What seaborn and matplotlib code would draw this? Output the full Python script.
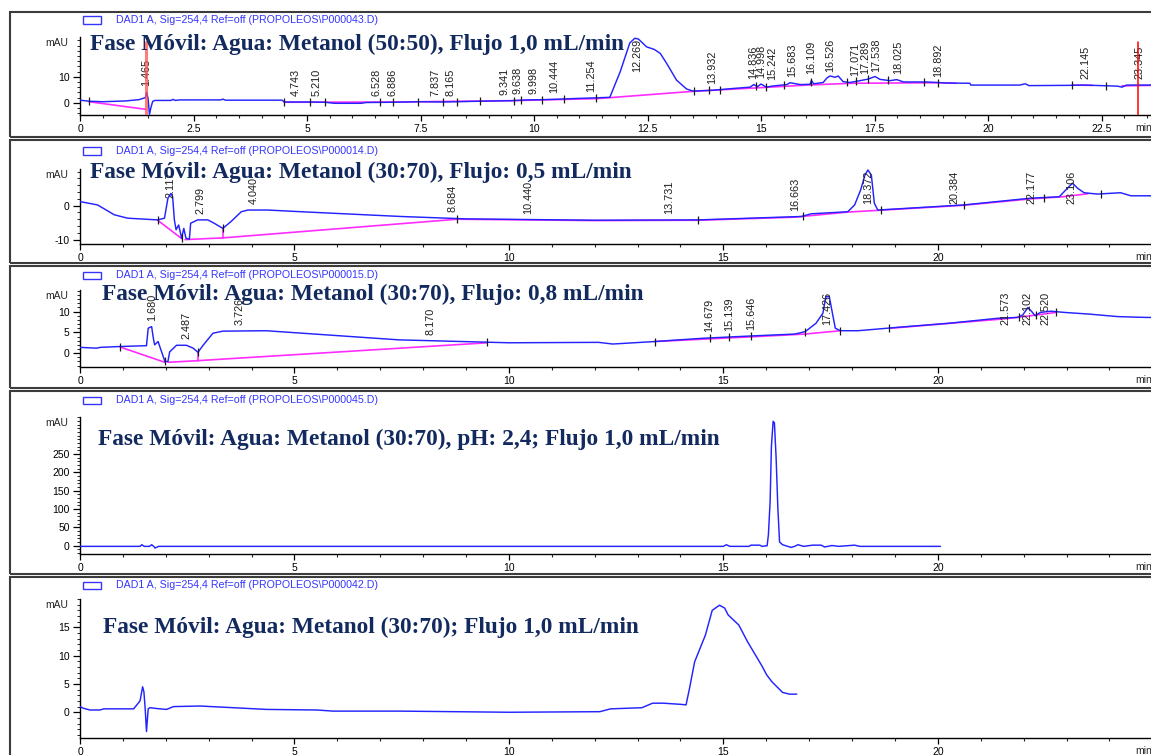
import numpy as np
import pandas as pd
import matplotlib
matplotlib.use("Agg")
import matplotlib.pyplot as plt
import seaborn as sns
from matplotlib.patches import Rectangle
from matplotlib.ticker import MultipleLocator, FuncFormatter

# ---------------- chromatogram data (time in min, signal in mAU) ----------------
p1_time = [0, 0.2, 0.5, 1.0, 1.3, 1.39, 1.44, 1.47, 1.50, 1.53, 1.56, 1.60, 1.65, 2.0, 2.05, 2.1,
           2.2, 3.1, 3.15, 3.2, 4.45, 4.5, 5.0, 5.4, 5.6, 6.2, 6.3, 6.9, 7.5, 8.0, 8.8, 9.5, 9.84,
           10.2, 10.57, 11.0, 11.38, 11.67, 11.9, 12.11, 12.22, 12.3, 12.48, 12.65, 12.78, 12.92,
           13.14, 13.36, 13.5, 13.93, 14.39, 14.76, 14.84, 14.92, 15.0, 15.12, 15.24, 15.57, 15.64,
           15.86, 16.08, 16.11, 16.16, 16.37, 16.45, 16.52, 16.63, 16.70, 16.81, 16.96, 17.18,
           17.36, 17.51, 17.62, 17.84, 17.99, 18.14, 18.65, 19.09, 19.6, 19.62, 20.7, 20.82, 20.9,
           21.8, 22.1, 22.3, 22.85, 22.95, 23.05, 23.6]
p1_mau = [1.0, 0.6, 0.4, 0.7, 1.2, 1.7, 2.0, 4.0, 1.5, -4.5, -2.0, 0.5, 0.9, 0.9, 1.3, 0.9,
          1.1, 1.1, 1.4, 1.0, 1.0, 0.3, 0.3, 0.2, -0.2, -0.2, 0.1, 0.2, 0.4, 0.3, 0.6, 0.8, 1.1,
          1.2, 1.4, 1.7, 1.9, 2.1, 12.0, 23.0, 24.8, 24.5, 21.5, 20.5, 19.0, 15.2,
          8.7, 5.3, 4.5, 4.8, 5.5, 6.0, 7.0, 6.2, 7.2, 6.0, 6.4, 7.0, 7.7,
          7.0, 7.1, 8.6, 7.3, 7.8, 9.5, 10.3, 9.8, 10.3, 8.1, 7.8, 8.5,
          9.1, 10.1, 9.0, 8.5, 8.9, 8.0, 8.0, 7.6, 7.5, 6.8, 6.8, 7.3, 6.6,
          6.7, 6.8, 6.7, 6.4, 6.0, 6.8, 6.8]
p1_base_time = [0.2, 1.44, None, 4.5, 7.0, 9.5, 11.4, 13.5, 15.5, 16.0, 17.0, 18.9, 19.3, None,
                21.85, 22.3, None, 22.95, 23.6]
p1_base_mau = [0.4, -2.5, None, 0.2, 0.3, 0.8, 1.6, 4.4, 6.3, 6.8, 7.5, 7.7, 7.5, None,
               6.8, 6.7, None, 6.5, 6.7]
p1_peaks = ["1.465", "4.743", "5.210", "6.528", "6.886", "7.837", "8.165", "9.341", "9.638",
            "9.998", "10.444", "11.254", "12.269", "13.932", "14.836", "14.998", "15.242",
            "15.683", "16.109", "16.526", "17.071", "17.289", "17.538", "18.025", "18.892",
            "22.145", "23.345"]
p1_events = [0.2, 4.5, 5.06, 5.4, 6.6, 6.9, 7.45, 8.0, 8.3, 8.8, 9.55, 9.72, 10.17, 10.65,
             11.37, 13.52, 13.85, 14.1, 14.9, 15.1, 15.5, 16.1, 16.9, 17.1, 17.35, 17.8, 18.6,
             18.9, 21.85, 22.6]
p1_cursors = [1.45, 23.31]

p2_time = [0, 0.41, 0.8, 1.11, 1.81, 1.97, 2.05, 2.12, 2.16, 2.20, 2.24, 2.30, 2.37, 2.42, 2.47,
           2.55, 2.58, 2.74, 2.98, 3.13, 3.33, 3.52, 3.76, 3.91, 4.38, 5.16, 7.49, 9.0, 12.0,
           14.42, 16.82, 17.05, 17.9, 18.06, 18.2, 18.3, 18.37, 18.45, 18.52, 18.6, 20.6, 22.17,
           22.83, 23.02, 23.14, 23.26, 23.41, 23.72, 24.26, 24.5, 25.0]
p2_mau = [1.2, 0.2, -2.7, -3.7, -4.2, -3.7, 2.2, 3.6, 2.6, -4.2, -7.1, -5.7, -9.6, -6.7, -9.6,
          -9.9, -5.2, -4.2, -4.2, -5.2, -6.7, -4.7, -1.8, -1.3, -1.3, -1.8, -3.2, -3.9, -4.3,
          -4.2, -3.2, -2.4, -1.8, 0.2, 4.6, 9.0, 10.5, 9.0, 0.7, -1.3, 0.2, 2.2,
          2.6, 5.1, 6.6, 5.1, 3.8, 3.4, 3.8, 2.9, 2.9]
p2_base_time = [1.81, 2.37, None, 2.45, 3.33, 8.8, 12.0, 14.42, 16.66, 17.9, 18.6, 20.6, 22.17,
                22.9, 23.5, None, 3.33, 3.33]
p2_base_mau = [-4.3, -9.7, None, -10.0, -9.5, -4.0, -4.4, -4.3, -3.4, -1.9, -1.4, 0.1, 2.0,
               2.6, 3.5, None, -6.7, -9.5]
p2_peaks = ["2.117", "2.799", "4.040", "8.684", "10.440", "13.731", "16.663", "18.372",
            "20.384", "22.177", "23.106"]
p2_events = [1.81, 2.37, 3.33, 8.8, 14.42, 16.86, 18.67, 20.6, 22.48, 23.8]

p3_time = [0, 0.39, 0.47, 0.93, 1.55, 1.59, 1.67, 1.71, 1.74, 1.82, 1.90, 1.98, 2.05, 2.09,
           2.25, 2.48, 2.64, 2.75, 2.87, 3.10, 3.33, 4.34, 5.89, 7.44, 10.0, 12.09, 12.42,
           13.4, 14.54, 15.77, 16.67, 16.91, 17.16, 17.32, 17.39, 17.47, 17.55, 17.61, 17.73,
           18.14, 19.04, 20.26, 21.4, 21.86, 21.98, 22.1, 22.19, 22.27, 22.39, 22.63, 22.96,
           23.53, 24.19, 24.84, 25.0]
p3_mau = [1.4, 1.2, 1.4, 1.6, 1.8, 6.0, 6.4, 3.6, 2.0, 2.8, 0.4, -2.0, -2.0, 0.3,
          1.9, 1.9, 1.2, 0.2, 1.9, 4.8, 5.3, 5.4, 4.3, 3.2, 2.5, 2.6, 2.2,
          2.8, 3.6, 4.2, 4.6, 5.2, 7.2, 9.6, 13.6, 13.6, 9.2, 6.0, 5.4,
          5.4, 6.2, 7.2, 8.4, 8.6, 9.2, 11.0, 10.0, 9.0, 9.8, 10.1, 9.8,
          9.4, 8.8, 8.6, 8.6]
p3_base_time = [0.93, 1.98, None, 2.05, 2.75, 9.5, None, 13.4, 15.6, 16.9, 17.73, None, 18.9,
                20.3, 21.6, 22.0, 22.75, None, 2.75, 2.75]
p3_base_mau = [1.5, -2.2, None, -2.2, -1.8, 2.5, None, 2.8, 3.9, 4.6, 5.4, None, 6.0,
               7.2, 8.3, 8.8, 9.8, None, 0.2, -1.8]
p3_peaks = ["1.680", "2.487", "3.726", "8.170", "14.679", "15.139", "15.646", "17.426",
            "21.573", "22.102", "22.520"]
p3_events = [0.93, 1.98, 2.75, 9.5, 13.4, 14.68, 15.14, 15.65, 16.9, 17.73, 18.87, 21.9, 22.3,
             22.75]

p4_time = [0, 1.40, 1.44, 1.50, 1.62, 1.67, 1.72, 1.75, 1.83, 15.0, 15.07, 15.15, 15.6, 15.64,
           15.85, 15.9, 16.02, 16.05, 16.09, 16.12, 16.16, 16.19, 16.23, 16.27, 16.31, 16.38,
           16.5, 16.58, 16.66, 16.74, 16.87, 17.08, 17.28, 17.36, 17.53, 17.69, 18.06, 18.18,
           20.06]
p4_mau = [-1.8, -1.8, 2.7, -1.8, -1.8, 2.7, -1.8, -6.4, -1.8, -1.8, 2.7, -1.8, -1.8, 1.5,
          1.5, -1.8, 0.0, 30, 121, 271, 339, 335, 239, 103, 10, 2.7,
          -1.8, -4.6, -1.8, 2.7, -1.8, 1.5, 1.5, -3.5, 0.5, -1.8, 1.5, -1.8,
          -1.8]

p5_time = [0, 0.08, 0.23, 0.47, 0.55, 1.25, 1.40, 1.46, 1.49, 1.52, 1.55, 1.59, 1.63, 1.86,
           2.02, 2.18, 2.8, 3.58, 4.35, 5.52, 5.9, 7.46, 10.0, 12.12, 12.37, 13.1, 13.35, 13.6,
           14.0, 14.13, 14.21, 14.33, 14.58, 14.74, 14.91, 15.03, 15.11, 15.36, 15.56, 15.89,
           16.01, 16.13, 16.38, 16.54, 16.71]
p5_mau = [1.0, 0.7, 0.4, 0.4, 0.6, 0.6, 2.0, 4.5, 3.6, 0.6, -3.4, 0.6, 0.8, 0.6,
          0.5, 1.0, 1.1, 0.8, 0.5, 0.4, 0.2, 0.2, 0.0, 0.1, 0.6, 0.8, 1.6, 1.6,
          1.4, 1.3, 4.2, 8.9, 13.6, 18.0, 18.9, 18.4, 17.2, 15.4, 12.5, 8.3,
          6.6, 5.4, 3.5, 3.2, 3.2]

titles = ["Fase Móvil: Agua: Metanol (50:50), Flujo 1,0 mL/min",
          "Fase Móvil: Agua: Metanol (30:70), Flujo: 0,5 mL/min",
          "Fase Móvil: Agua: Metanol (30:70), Flujo: 0,8 mL/min",
          "Fase Móvil: Agua: Metanol (30:70), pH: 2,4; Flujo 1,0 mL/min",
          "Fase Móvil: Agua: Metanol (30:70); Flujo 1,0 mL/min"]
legend_labels = ["DAD1 A, Sig=254,4 Ref=off (PROPOLEOS\\P000043.D)",
                 "DAD1 A, Sig=254,4 Ref=off (PROPOLEOS\\P000014.D)",
                 "DAD1 A, Sig=254,4 Ref=off (PROPOLEOS\\P000015.D)",
                 "DAD1 A, Sig=254,4 Ref=off (PROPOLEOS\\P000045.D)",
                 "DAD1 A, Sig=254,4 Ref=off (PROPOLEOS\\P000042.D)"]

# ---------------- styling ----------------
W, H = 1151, 755
TRACE = "#2323ff"
BASE = "#ff2cff"
NAVY = "#122a5e"
LEGEND_BLUE = "#3535ff"

sns.set_style("ticks")
plt.rcParams["font.family"] = ["Liberation Sans", "DejaVu Sans"]
plt.rcParams["axes.unicode_minus"] = False

fig = plt.figure(figsize=(W / 100, H / 100), dpi=100, facecolor="white")


def fx(px):
    return px / W


def fy(py):
    return 1 - py / H


# panel layout in pixels: frame top/bottom, axes top/bottom, x scale, y range, ticks
layout = [
    dict(frame=(12, 137), ax=(36.7, 115.0), xmax=23.59, ylim=(-4.7, 25.4), ymaj=[0, 10],
         ymin=2, xmaj=2.5, xmin=0.5, legend_y=20, title=(90, 44)),
    dict(frame=(140, 263), ax=(169.3, 244.0), xmax=24.97, ylim=(-11.3, 10.7), ymaj=[-10, 0],
         ymin=2, xmaj=5, xmin=1, legend_y=151, title=(90, 172)),
    dict(frame=(266, 388), ax=(290.0, 367.3), xmax=24.97, ylim=(-3.4, 15.2), ymaj=[0, 5, 10],
         ymin=1, xmaj=5, xmin=1, legend_y=275, title=(102, 294)),
    dict(frame=(391, 574), ax=(417.3, 554.0), xmax=24.97, ylim=(-22.6, 350),
         ymaj=[0, 50, 100, 150, 200, 250], ymin=10, xmaj=5, xmin=1, legend_y=400,
         title=(98, 439)),
    dict(frame=(577, 780), ax=(599.0, 738.3), xmax=24.97, ylim=(-4.6, 20.0),
         ymaj=[0, 5, 10, 15], ymin=1, xmaj=5, xmin=1, legend_y=585, title=(103, 627)),
]

traces = [(p1_time, p1_mau), (p2_time, p2_mau), (p3_time, p3_mau), (p4_time, p4_mau),
          (p5_time, p5_mau)]
baselines = [(p1_base_time, p1_base_mau), (p2_base_time, p2_base_mau),
             (p3_base_time, p3_base_mau), None, None]
peak_sets = [p1_peaks, p2_peaks, p3_peaks, None, None]
event_sets = [p1_events, p2_events, p3_events, None, None]


def segment_frame(times, values):
    """Split a None-separated baseline list into a frame with a segment id."""
    rows, seg = [], 0
    for t, v in zip(times, values):
        if t is None:
            seg += 1
            continue
        rows.append((t, v, seg))
    return pd.DataFrame(rows, columns=["time", "mAU", "segment"])


def draw_peak_labels(ax, t, v, labels, fs=7.8, gap=6):
    t = np.asarray(t, float)
    v = np.asarray(v, float)
    top = ax.transAxes.transform((0, 1))[1]
    char_px = fs * 100 / 72
    for lab in labels:
        rt = float(lab)
        val = np.interp(rt, t, v)
        sel = (t >= rt - 0.05) & (t <= rt + 0.05)
        if sel.any():
            val = max(val, v[sel].max())
        xd, yd = ax.transData.transform((rt, val))
        length = char_px * (0.556 * (len(lab) - 1) + 0.278)
        yb = min(yd + gap, top - 2 - length)
        _, yb_data = ax.transData.inverted().transform((xd, yb))
        ax.text(rt, yb_data, lab, rotation=90, ha="center", va="bottom", fontsize=fs,
                color="#1e1e1e", clip_on=False, zorder=4)


for i, cfg in enumerate(layout):
    f_top, f_bot = cfg["frame"]
    fig.add_artist(Rectangle((fx(10), fy(f_bot)), fx(1200), (f_bot - f_top) / H,
                             transform=fig.transFigure, fill=False, ec="#3c3c3c", lw=1.5))

    a_top, a_bot = cfg["ax"]
    ax = fig.add_axes([fx(80), fy(a_bot), fx(W) - fx(80), (a_bot - a_top) / H])
    ax.set_facecolor("none")

    t, v = traces[i]
    if baselines[i] is not None:
        bdf = segment_frame(*baselines[i])
        sns.lineplot(data=bdf, x="time", y="mAU", units="segment", estimator=None, sort=False,
                     color=BASE, lw=1.2, ax=ax, legend=False, zorder=2)
    sns.lineplot(x=t, y=v, estimator=None, sort=False, color=TRACE, lw=1.05, ax=ax,
                 legend=False, zorder=3)

    ax.set_xlim(0, cfg["xmax"])
    ax.set_ylim(*cfg["ylim"])
    ax.set_xlabel("")
    ax.set_ylabel("")
    for side in ("top", "right"):
        ax.spines[side].set_visible(False)
    for side in ("left", "bottom"):
        ax.spines[side].set_linewidth(1.0)
        ax.spines[side].set_color("black")

    ax.xaxis.set_major_locator(MultipleLocator(cfg["xmaj"]))
    ax.xaxis.set_minor_locator(MultipleLocator(cfg["xmin"]))
    ax.xaxis.set_major_formatter(FuncFormatter(lambda x, p: f"{x:g}"))
    ax.set_yticks(cfg["ymaj"])
    ax.yaxis.set_minor_locator(MultipleLocator(cfg["ymin"]))
    ax.tick_params(axis="x", which="major", direction="out", length=4.2, width=0.9, pad=2.2,
                   labelsize=7.5, colors="black")
    ax.tick_params(axis="x", which="minor", direction="out", length=2.2, width=0.8)
    ax.tick_params(axis="y", which="major", direction="out", length=5, width=0.9, pad=2.5,
                   labelsize=7.5, colors="black")
    ax.tick_params(axis="y", which="minor", direction="out", length=2.5, width=0.7)

    if event_sets[i] is not None:
        ev = np.asarray(event_sets[i], float)
        ev_y = np.interp(ev, np.asarray(t, float), np.asarray(v, float))
        ax.scatter(ev, ev_y, marker="|", s=36, color="#1a1a1a", linewidths=0.9, zorder=4)

    if i == 0:
        for k, c in enumerate(p1_cursors):
            ax.plot([c, c], [cfg["ylim"][0], 23.5], color="#ff5050" if k == 0 else "#ff0000",
                    lw=2.2 if k == 0 else 1.1, alpha=0.75 if k == 0 else 1.0, zorder=5)

    if peak_sets[i] is not None:
        draw_peak_labels(ax, t, v, peak_sets[i])

    # unit labels
    fig.text(fx(68), fy(a_top + 6), "mAU", ha="right", va="center", fontsize=7.5)
    fig.text(fx(1135), fy(a_bot + 13), "min", ha="left", va="center", fontsize=7.5)

    # signal legend entry
    ly = cfg["legend_y"]
    fig.add_artist(Rectangle((fx(83), fy(ly + 3.5)), fx(18), 7 / H, transform=fig.transFigure,
                             fill=True, fc="white", ec=LEGEND_BLUE, lw=1.0))
    fig.text(fx(116), fy(ly), legend_labels[i], ha="left", va="center", fontsize=7.7,
             color=LEGEND_BLUE)

    # condition caption
    tx, ty = cfg["title"]
    fig.text(fx(tx), fy(ty), titles[i], ha="left", va="center", fontsize=16.85,
             fontfamily=["Liberation Serif", "DejaVu Serif"], fontweight="bold", color=NAVY,
             zorder=10)

fig.savefig("out.png", dpi=100, facecolor="white")
